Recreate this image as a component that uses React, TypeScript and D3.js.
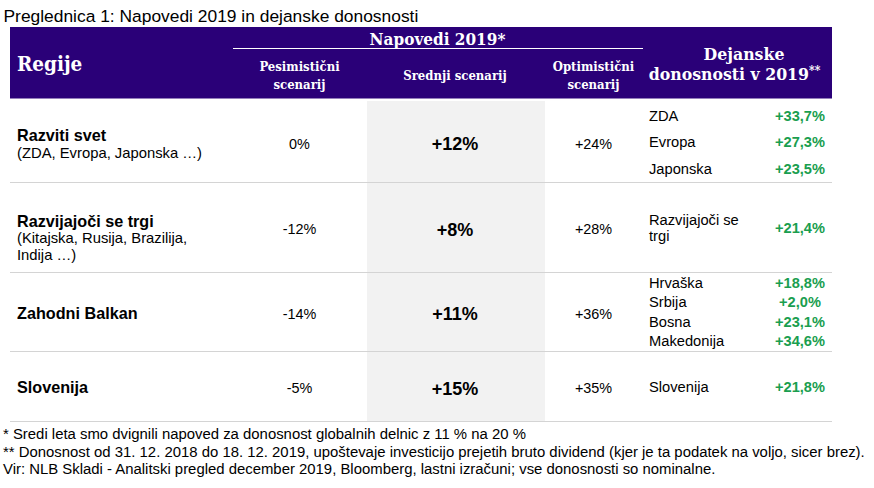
import React from "react";
import * as d3 from "d3";

const title = "Preglednica 1: Napovedi 2019 in dejanske donosnosti";
const regions = ["Razviti svet", "Razvijajoči se trgi", "Zahodni Balkan", "Slovenija"];
const regionSubs = [["(ZDA, Evropa, Japonska …)"], ["(Kitajska, Rusija, Brazilija,", "Indija …)"], [], []];
const pessimistic = ["0%", "-12%", "-14%", "-5%"];
const middle = ["+12%", "+8%", "+11%", "+15%"];
const optimistic = ["+24%", "+28%", "+36%", "+35%"];
const actualLabels = [["ZDA", "Evropa", "Japonska"], ["Razvijajoči se|trgi"], ["Hrvaška", "Srbija", "Bosna", "Makedonija"], ["Slovenija"]];
const actualValues = [["+33,7%", "+27,3%", "+23,5%"], ["+21,4%"], ["+18,8%", "+2,0%", "+23,1%", "+34,6%"], ["+21,8%"]];
const footnotes = [
  "* Sredi leta smo dvignili napoved za donosnost globalnih delnic z 11 % na 20 %",
  "** Donosnost od 31. 12. 2018 do 18. 12. 2019, upoštevaje investicijo prejetih bruto dividend (kjer je ta podatek na voljo, sicer brez).",
  "Vir: NLB Skladi - Analitski pregled december 2019, Bloomberg, lastni izračuni; vse donosnosti so nominalne.",
];

const W = 874, H = 488;
const SANS = "'Liberation Sans', Arial, sans-serif";
const SERIF = "'DejaVu Serif Condensed', 'DejaVu Serif', serif";
const HEAD = "#2a0078";
const GREEN = "#1a9e4f";
const rowBounds = [101, 182, 272, 351, 421];
const subSpacing = [26.5, 17, 19.6, 0];

export default function App() {
  const y = d3.scaleOrdinal<string, number>().domain(regions).range(rowBounds.slice(0, 4));
  const left = 10, right = 832;
  const colX = { pes: 299.5, mid: 455, opt: 593.5, lab: 649, val: 800 };
  const hs = { fontFamily: SERIF, fontWeight: "bold" as const, fill: "#fff" };
  return (
    <svg width={W} height={H} style={{ position: "absolute", left: 0, top: 0, background: "#fff" }}>
      <text x={3.5} y={22} fontFamily={SANS} fontSize={17.4} fill="#000">{title}</text>
      <rect x={left} y={27} width={right - left} height={71.5} fill={HEAD} />
      <rect x={367} y={101} width={178} height={320} fill="#f2f2f2" />
      <text x={17} y={71} fontSize={20.5} {...hs}>Regije</text>
      <text x={437.5} y={44.5} textAnchor="middle" fontSize={17} {...hs}>Napovedi 2019*</text>
      <line x1={233} x2={643} y1={48.5} y2={48.5} stroke="#fff" strokeWidth={1.2} />
      {[["Pesimistični", "scenarij", colX.pes], ["Optimistični", "scenarij", colX.opt]].map(([a, b, x], i) => (
        <g key={i}>
          <text x={x as number} y={71} textAnchor="middle" fontSize={13} {...hs}>{a}</text>
          <text x={x as number} y={89} textAnchor="middle" fontSize={13} {...hs}>{b}</text>
        </g>
      ))}
      <text x={colX.mid} y={80} textAnchor="middle" fontSize={13} {...hs}>Srednji scenarij</text>
      <text x={744} y={60} textAnchor="middle" fontSize={17.5} {...hs}>Dejanske</text>
      <text x={734.5} y={80} textAnchor="middle" fontSize={17.5} {...hs}>donosnosti v 2019<tspan fontSize={12} dy={-5}>**</tspan></text>
      {regions.map((r, i) => {
        const top = y(r);
        const bottom = rowBounds[i + 1];
        const cy = (top + bottom) / 2 + 7;
        const subs = regionSubs[i];
        const nameY = subs.length === 0 ? cy : cy - 7.5;
        const labs = actualLabels[i];
        const vals = actualValues[i];
        const sp = subSpacing[i];
        const gc = cy - 1.5;
        const startY = gc - ((labs.length - 1) * sp) / 2;
        return (
          <g key={r}>
            <line x1={left} x2={right} y1={bottom + 0.5} y2={bottom + 0.5} stroke="#d4d4d4" strokeWidth={1.2} />
            <text x={17} y={nameY} fontFamily={SANS} fontSize={16.2} fontWeight="bold">{r}</text>
            {subs.map((s, j) => (
              <text key={j} x={17} y={nameY + 16.5 + j * 17} fontFamily={SANS} fontSize={14.8}>{s}</text>
            ))}
            <text x={colX.pes} y={cy} textAnchor="middle" fontFamily={SANS} fontSize={14.4}>{pessimistic[i]}</text>
            <text x={colX.mid} y={cy + 1.5} textAnchor="middle" fontFamily={SANS} fontSize={18} fontWeight="bold">{middle[i]}</text>
            <text x={colX.opt} y={cy} textAnchor="middle" fontFamily={SANS} fontSize={14.4}>{optimistic[i]}</text>
            {labs.map((l, j) => {
              const parts = l.split("|");
              const ly = startY + j * sp;
              return (
                <g key={j}>
                  {parts.map((p, k) => (
                    <text key={k} x={colX.lab} y={ly - (parts.length - 1) * 8 + k * 16.5} fontFamily={SANS} fontSize={14.7}>{p}</text>
                  ))}
                  <text x={colX.val} y={ly} textAnchor="middle" fontFamily={SANS} fontSize={14.6} fontWeight="bold" fill={GREEN}>{vals[j]}</text>
                </g>
              );
            })}
          </g>
        );
      })}
      {footnotes.map((f, i) => (
        <text key={i} x={3} y={439 + i * 17.7} fontFamily={SANS} fontSize={14.9}>{f}</text>
      ))}
    </svg>
  );
}
